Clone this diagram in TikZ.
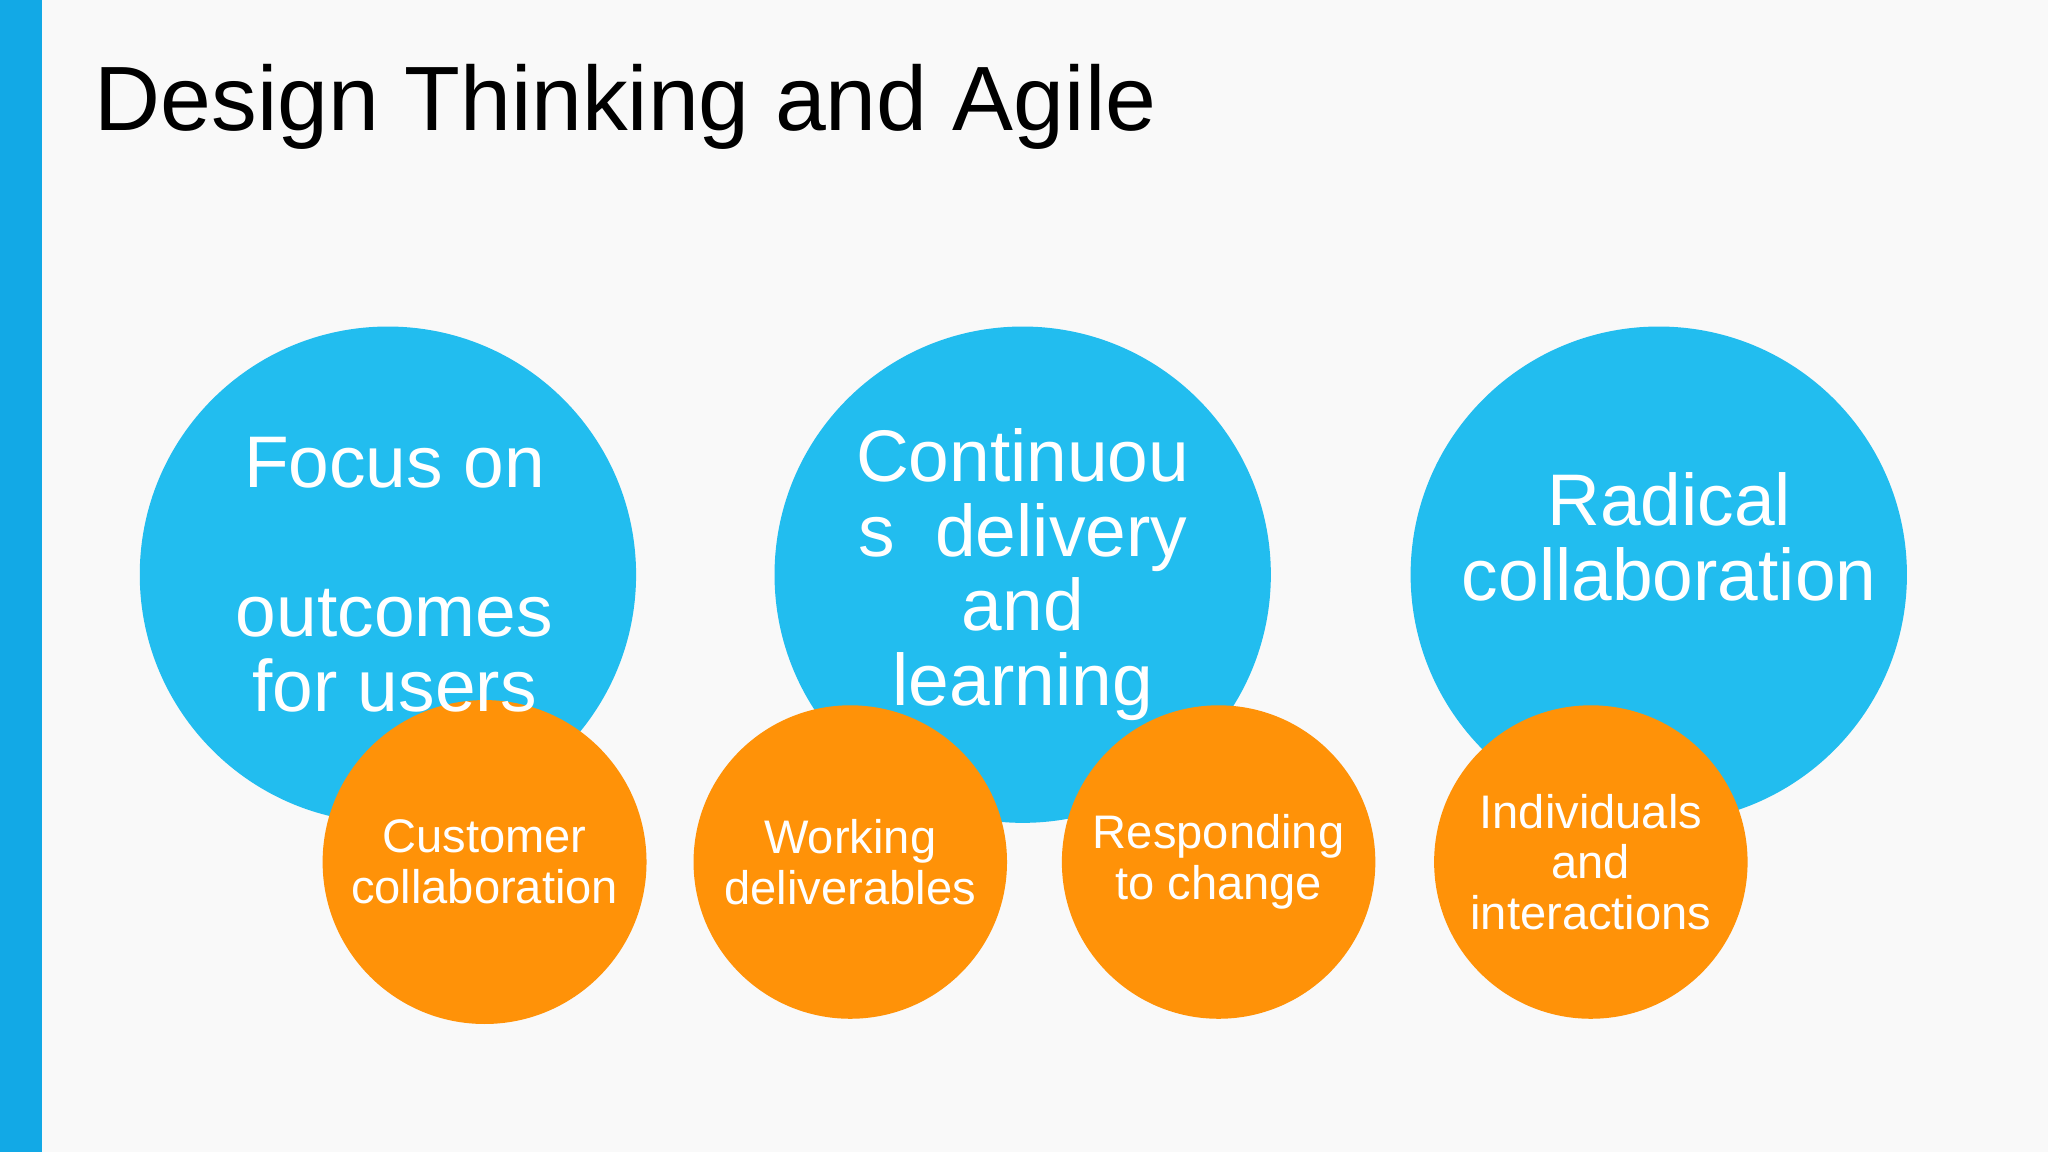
\documentclass[tikz,border=0pt]{standalone}
\usepackage{fontspec}
\setmainfont{Liberation Sans}
\definecolor{barblue}{HTML}{12A9E6}
\definecolor{dtblue}{HTML}{22BDEF}
\definecolor{agorange}{HTML}{FF9208}
\definecolor{bgpage}{HTML}{F9F9F9}
\newlength{\pxu}
\setlength{\pxu}{0.013061cm}
\tikzset{
  big/.style={circle,fill=dtblue,minimum size=380\pxu},
  small/.style={circle,fill=agorange,text=white,align=center,inner sep=0pt,
    font=\fontsize{13.4}{14.4}\selectfont},
  bigtext/.style={text=white,align=center,font=\fontsize{20.8}{21.2}\selectfont}
}
\begin{document}
\begin{tikzpicture}[x=\pxu,y=-\pxu]
  \fill[bgpage] (0,0) rectangle (1568,882);
  \useasboundingbox (0,0) rectangle (1568,882);
  \fill[barblue] (0,0) rectangle (32,882);
  \node[anchor=base west,font=\fontsize{26}{30}\selectfont,inner sep=0pt] (title) at (72,100) {Design Thinking and Agile};

  % design thinking principles
  \node[big] (focus) at (297,440) {};
  \node[big] (delivery) at (783,440) {};
  \node[big] (radical) at (1270,440) {};

  % agile values
  \node[small,minimum size=248\pxu] (customer) at (371,660) {Customer\\collaboration};
  \node[small,minimum size=240\pxu] (working) at (651,660) {Working\\deliverables};
  \node[small,minimum size=240\pxu] (responding) at (933,660) {Responding\\to change};
  \node[small,minimum size=240\pxu] (individuals) at (1218,660) {Individuals\\and\\interactions};

  \node[bigtext] (focustext) at (302,440) {Focus on\\[0pt] \\outcomes\\for users};
  \node[bigtext] (deliverytext) at (783,440) {Continuou\\s~ delivery\\and\\learning};
  \node[bigtext] (radicaltext) at (1278,411) {Radical\\collaboration};
\end{tikzpicture}
\end{document}
